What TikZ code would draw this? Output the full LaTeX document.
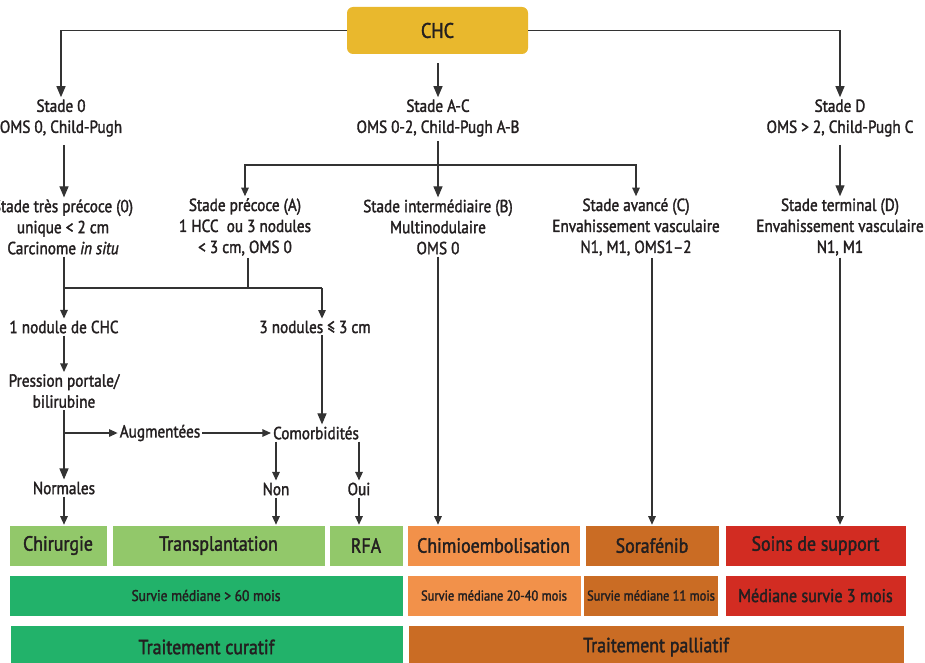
\documentclass[tikz,border=0pt]{standalone}
\usepackage{fontspec}
\setmainfont{PT Sans}[FakeStretch=0.87, FakeBold=1.8]
\usepackage{xcolor}
\usetikzlibrary{arrows.meta,positioning,calc}

\definecolor{chcgold}{RGB}{233,184,45}
\definecolor{curlight}{RGB}{146,200,106}
\definecolor{curdark}{RGB}{34,178,106}
\definecolor{palllight}{RGB}{242,145,74}
\definecolor{palldark}{RGB}{202,108,36}
\definecolor{pallred}{RGB}{210,44,34}
\definecolor{inkdark}{RGB}{35,31,32}
\definecolor{linegray}{RGB}{51,51,51}

\begin{document}
\begin{tikzpicture}[
    x=1pt, y=-1pt,
    lbl/.style={align=center, inner sep=2pt, text=inkdark, font=\fontsize{17.5}{21}\selectfont},
    treat/.style={rectangle, draw=white, line width=0.6pt, text=inkdark, minimum height=41pt, font=\fontsize{20.5}{22}\selectfont},
    surv/.style={treat, font=\fontsize{14.3}{16}\selectfont},
    line/.style={draw=linegray, line width=1.2pt},
    arrow/.style={line, -{Triangle[width=9pt,length=11pt]}},
    smallarrow/.style={line, -{Triangle[width=7.5pt,length=8.5pt]}}
]
\useasboundingbox (0,0) rectangle (925,663);

% CHC
\node [rectangle, rounded corners=6pt, fill=chcgold, text=inkdark, minimum width=181pt, minimum height=47pt, font=\fontsize{21}{22}\selectfont] (chc) at (437.5,30.5) {CHC};

% Stades
\node [lbl] (s0) at (61,118) {Stade 0\\OMS 0, Child-Pugh};
\node [lbl] (sac) at (438,118) {Stade A-C\\OMS 0-2, Child-Pugh A-B};
\node [lbl] (sd) at (840,118) {Stade D\\OMS > 2, Child-Pugh C};

\node [lbl] (tp0) at (63,227) {Stade très précoce (0)\\unique < 2 cm\\Carcinome \textit{in situ}};
\node [lbl] (sa) at (245,227) {Stade précoce (A)\\1 HCC~ ou 3 nodules\\< 3 cm, OMS 0};
\node [lbl] (sb) at (438,227) {Stade intermédiaire (B)\\Multinodulaire\\OMS 0};
\node [lbl] (sc) at (636,227) {Stade avancé (C)\\Envahissement vasculaire\\N1, M1, OMS1–2};
\node [lbl] (sdt) at (840,227) {Stade terminal (D)\\Envahissement vasculaire\\N1, M1};

% Stade precoce
\node [lbl] (n1) at (64,327) {1 nodule de CHC};
\node [lbl] (n3) at (315,327) {3 nodules ≤ 3 cm};
\node [lbl] (pp) at (64,391) {Pression portale/\\bilirubine};
\node [lbl] (aug) at (160,433) {Augmentées};
\node [lbl] (com) at (316,433) {Comorbidités};
\node [lbl] (norm) at (64,488) {Normales};
\node [lbl] (non) at (276,489) {Non};
\node [lbl] (oui) at (359,489) {Oui};

% Traitements
\node [treat, fill=curlight, minimum width=98pt] (chir) at (58,545.5) {Chirurgie};
\node [treat, fill=curlight, minimum width=213pt] (trans) at (218.5,545.5) {Transplantation};
\node [treat, fill=curlight, minimum width=74pt] (rfa) at (366,545.5) {RFA};
\node [treat, fill=palllight, minimum width=173pt] (chimio) at (493.5,545.5) {Chimioembolisation};
\node [treat, fill=palldark, minimum width=134pt] (sora) at (652,545.5) {Sorafénib};
\node [treat, fill=pallred, minimum width=181pt] (soins) at (815.5,545.5) {Soins de support};

% Survie
\node [surv, fill=curdark, minimum width=394pt, font=\fontsize{15.5}{17}\selectfont] (s60) at (206,595.5) {Survie médiane > 60 mois};
\node [surv, fill=palllight, minimum width=174pt] (s2040) at (494,595.5) {Survie médiane 20-40 mois};
\node [surv, fill=palldark, minimum width=132pt] (s11) at (651,595.5) {Survie médiane 11 mois};
\node [treat, fill=pallred, minimum width=181pt, font=\fontsize{18.5}{20}\selectfont] (s3) at (815.5,595.5) {Médiane survie 3 mois};

\node [treat, fill=curdark, minimum width=393pt, minimum height=44pt] (cur) at (206.5,647) {Traitement curatif};
\node [treat, fill=palldark, minimum width=496pt, minimum height=44pt] (pal) at (656,647) {Traitement palliatif};

% Arrows
\coordinate (brAC) at (438,165);
\coordinate (br0) at (64,288);
\coordinate (brA) at (248,288);
\coordinate (br3) at (322,288);
\coordinate (brP) at (64,433);

\draw [arrow] (chc.west) -| (s0.north);
\draw [arrow] (chc.east) -| (sd.north);
\draw [arrow, shorten <=9pt] (sac.north |- chc.south) -- (sac.north);

\draw [arrow, shorten <=6pt] (s0.south -| br0) -- (tp0.north -| br0);
\draw [arrow, shorten <=2pt] (sb.north |- sac.south) -- (sb.north);
\draw [smallarrow] (brAC) -| (sa.north);
\draw [smallarrow] (brAC) -| (sc.north);
\draw [arrow, shorten <=6pt] (sd.south) -- (sdt.north);

\draw [line] (tp0.south -| br0) -- (br0) -- (br3);
\draw [line] (sa.south -| brA) -- (brA);
\draw [smallarrow] (br0) -- (n1.north);
\draw [smallarrow] (br3) -- (br3 |- n3.north);

\draw [smallarrow] (n1) -- (pp);
\draw [arrow] (pp.south) -- (norm.north);
\draw [smallarrow] (brP) -- (aug.west);
\draw [smallarrow] (aug.east) -- (com.west);
\draw [arrow] (br3 |- n3.south) -- (br3 |- com.north);
\draw [smallarrow] (com.south -| non) -- (non.north);
\draw [smallarrow] (com.south -| oui) -- (oui.north);

\draw [smallarrow] (norm) -- (norm |- chir.north);
\draw [smallarrow] (non) -- (non |- trans.north);
\draw [smallarrow] (oui) -- (oui |- rfa.north);
\draw [smallarrow] (sb.south) -- (sb.south |- chimio.north);
\draw [smallarrow] (sora.north |- sc.south) -- (sora.north);
\draw [smallarrow] (sdt.south) -- (sdt.south |- soins.north);

\end{tikzpicture}
\end{document}
